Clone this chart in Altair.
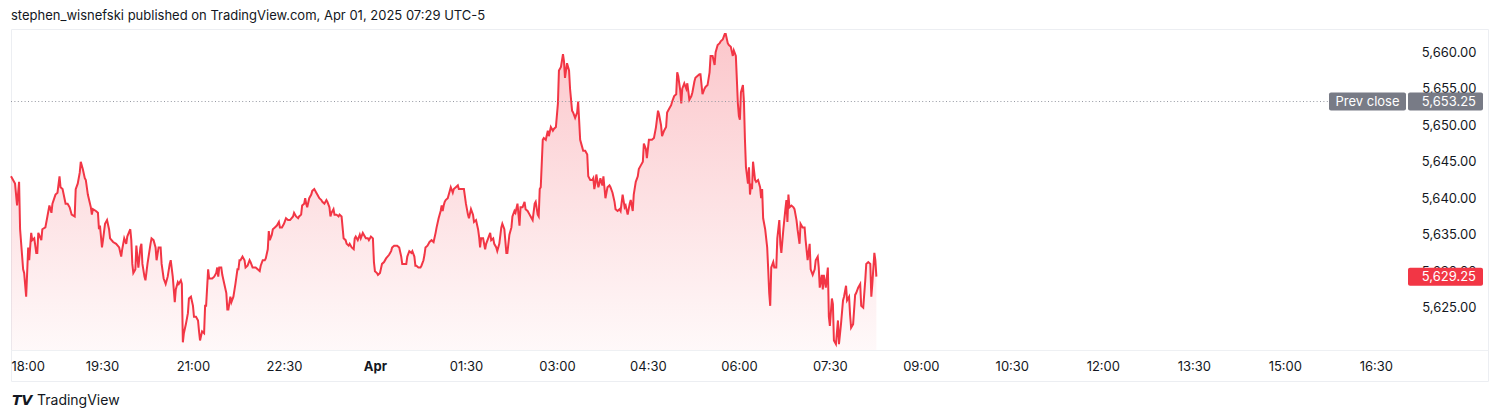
import altair as alt
import pandas as pd

# ---- data: minutes after 18:00 (Mar 31) and price ----
min_a = [0, 4, 6, 8, 9,
         12, 13, 15, 17, 18,
         20, 21, 23, 25, 26,
         27, 30, 31, 34, 36,
         38, 40, 41, 44, 46,
         48, 49, 51, 54, 56,
         58, 60, 63, 64, 66,
         68, 69, 71, 73, 74,
         76, 79, 80, 81, 84,
         86, 87, 88, 90, 91,
         93, 95, 97, 98, 101,
         104, 107, 109, 110, 112,
         114, 115, 118, 119, 120,
         121, 123, 124, 126, 128,
         129, 130, 132, 133, 135,
         138, 139, 141, 143]
px_a = [5643.0, 5642.0, 5639.0, 5642.25, 5635.75,
        5630.25, 5629.75, 5626.5, 5633.25, 5631.5,
        5635.25, 5634.25, 5634.5, 5632.5, 5632.5,
        5635.25, 5634.25, 5635.75, 5636.0, 5637.5,
        5639.0, 5638.0, 5639.25, 5640.5, 5640.75,
        5643.0, 5641.5, 5641.25, 5639.25, 5639.25,
        5638.75, 5637.75, 5637.5, 5641.25, 5642.0,
        5643.5, 5645.0, 5644.0, 5642.75, 5642.5,
        5640.5, 5638.75, 5637.75, 5638.5, 5638.25,
        5638.0, 5635.75, 5636.25, 5633.25, 5634.25,
        5636.5, 5637.0, 5635.75, 5634.5, 5634.0,
        5633.75, 5633.25, 5632.0, 5633.0, 5634.5,
        5633.75, 5634.75, 5635.75, 5634.25, 5631.0,
        5629.75, 5630.25, 5633.5, 5630.5, 5633.25,
        5633.75, 5631.0, 5629.25, 5628.75, 5631.0,
        5633.75, 5634.5, 5634.25, 5633.25]

min_b = [144, 146, 148, 149, 151,
         153, 155, 157, 158, 160,
         162, 163, 165, 166, 168,
         169, 170, 171, 173, 175,
         176, 178, 180, 181, 183,
         185, 186, 187, 189, 191,
         192, 193, 195, 196, 198,
         199, 201, 203, 204, 205,
         206, 208, 209, 211, 213,
         214, 215, 217, 218, 220,
         222, 224, 225, 226, 227,
         229, 231, 232, 234, 236,
         237, 239, 241, 242, 244,
         246, 247, 249, 251, 252,
         254, 255, 256, 258, 259,
         261, 263, 265, 266, 268,
         270, 272, 274, 276, 279,
         280, 282, 284, 285, 287]
px_b = [5631.5, 5633.25, 5633.25, 5631.0, 5629.0,
        5628.25, 5629.25, 5631.0, 5631.5, 5629.25,
        5625.75, 5627.5, 5628.5, 5628.25, 5628.75,
        5628.25, 5620.25, 5621.5, 5622.75, 5624.25,
        5626.25, 5626.5, 5625.25, 5623.75, 5623.75,
        5623.25, 5621.75, 5620.5, 5621.75, 5621.5,
        5625.25, 5625.25, 5630.25, 5629.0, 5629.0,
        5629.0, 5629.25, 5629.75, 5630.5, 5629.25,
        5630.5, 5630.5, 5629.5, 5628.25, 5627.0,
        5624.75, 5624.75, 5626.5, 5625.75, 5626.5,
        5628.25, 5630.25, 5630.25, 5631.5, 5631.5,
        5632.0, 5631.5, 5630.5, 5630.75, 5631.5,
        5631.25, 5630.5, 5630.5, 5630.5, 5630.25,
        5630.0, 5630.75, 5631.5, 5631.5, 5631.75,
        5633.0, 5635.5, 5634.25, 5635.0, 5635.75,
        5636.0, 5636.25, 5636.75, 5636.0, 5636.0,
        5636.5, 5637.25, 5637.0, 5637.0, 5637.5,
        5638.0, 5637.5, 5637.25, 5637.5, 5637.75]

min_c = [288, 290, 291, 292, 293,
         295, 297, 298, 300, 302,
         303, 305, 307, 308, 310,
         312, 313, 315, 316, 317,
         319, 320, 322, 324, 325,
         327, 328, 329, 331, 332,
         334, 335, 337, 339, 340,
         341, 343, 345, 346, 348,
         349, 351, 353, 354, 356,
         358, 359, 360, 362, 363,
         365, 367, 369, 371, 374,
         376, 377, 379, 381, 382,
         384, 386, 387, 389, 391,
         392, 394, 396, 397, 399,
         400, 401, 403, 405, 406,
         408, 409, 410, 412, 414,
         416, 418, 420, 421, 423,
         425, 426, 427, 428, 429,
         430]
px_c = [5639.0, 5639.25, 5640.0, 5639.25, 5638.75,
        5640.0, 5640.5, 5641.0, 5641.25, 5640.75,
        5640.5, 5640.0, 5639.75, 5639.5, 5639.25,
        5639.75, 5639.5, 5638.75, 5637.5, 5638.0,
        5638.5, 5637.75, 5637.75, 5637.5, 5637.75,
        5637.5, 5636.0, 5634.5, 5634.25, 5633.75,
        5633.5, 5633.75, 5633.25, 5633.0, 5634.5,
        5634.75, 5634.25, 5635.0, 5634.5, 5635.25,
        5635.0, 5634.5, 5634.5, 5634.25, 5634.75,
        5634.5, 5631.25, 5630.0, 5629.75, 5629.5,
        5629.75, 5631.0, 5631.25, 5631.75, 5632.25,
        5632.75, 5633.25, 5633.5, 5633.5, 5633.5,
        5633.25, 5632.0, 5631.0, 5631.0, 5631.0,
        5632.0, 5632.75, 5632.5, 5632.75, 5632.0,
        5630.75, 5630.75, 5630.5, 5630.5, 5630.75,
        5631.5, 5632.25, 5633.25, 5633.5, 5634.0,
        5634.25, 5634.0, 5635.25, 5636.0, 5637.25,
        5638.25, 5639.0, 5638.25, 5639.0, 5639.5,
        5639.75]

min_d = [432, 434, 435, 437, 438,
         440, 442, 443, 445, 447,
         448, 450, 452, 453, 455,
         457, 458, 460, 462, 463,
         464, 465, 467, 469, 470,
         472, 474, 475, 477, 478,
         480, 481, 483, 485, 486,
         488, 490, 491, 493, 495,
         496, 498, 499, 501, 503,
         504, 506, 508, 509, 511,
         513, 514, 516, 518, 519,
         521, 522, 523, 524, 526,
         527, 529, 531, 532, 534,
         536, 537, 539, 541, 542,
         544, 546, 547, 548, 550,
         552, 553, 555, 556, 558,
         560, 561, 563, 565, 566,
         568, 570, 571, 573]
px_d = [5640.0, 5641.0, 5641.5, 5640.75, 5641.25,
        5641.5, 5641.75, 5641.25, 5641.25, 5641.25,
        5641.25, 5639.25, 5637.75, 5637.25, 5638.5,
        5637.75, 5636.75, 5637.0, 5635.75, 5634.75,
        5633.25, 5634.5, 5634.5, 5633.0, 5633.75,
        5634.5, 5635.25, 5634.25, 5634.5, 5633.75,
        5633.25, 5632.75, 5633.75, 5636.0, 5636.5,
        5635.75, 5632.5, 5632.5, 5635.0, 5636.0,
        5637.5, 5638.25, 5638.0, 5639.25, 5636.25,
        5638.75, 5638.75, 5639.5, 5638.5, 5638.25,
        5637.75, 5637.5, 5637.0, 5639.25, 5639.5,
        5637.75, 5637.5, 5641.25, 5641.5, 5648.0,
        5648.25, 5648.0, 5649.25, 5648.5, 5649.75,
        5649.25, 5649.5, 5649.75, 5653.0, 5657.5,
        5658.0, 5659.75, 5658.75, 5656.5, 5658.5,
        5657.5, 5655.0, 5652.0, 5651.75, 5651.0,
        5651.75, 5653.25, 5648.0, 5647.0, 5646.5,
        5646.5, 5646.0, 5643.0, 5642.5]

min_e = [575, 576, 577, 578, 579,
         581, 582, 583, 585, 586,
         587, 588, 590, 592, 593,
         595, 597, 598, 600, 602,
         603, 605, 607, 608, 610,
         612, 613, 615, 616, 618,
         620, 621, 623, 625, 626,
         628, 629, 631, 632, 634,
         636, 638, 640, 641, 643,
         644, 646, 648, 649, 651,
         653, 654, 656, 658, 659,
         660, 662, 663, 664, 666,
         668, 669, 671, 673, 674,
         676, 677, 679, 681, 682,
         684, 686, 687, 689, 691,
         692, 694, 696, 697, 699,
         701, 702, 704, 706, 707,
         709, 710, 712, 714, 715,
         717]
px_e = [5642.5, 5642.75, 5641.25, 5642.0, 5643.25,
        5641.5, 5642.0, 5642.75, 5641.75, 5643.0,
        5641.5, 5640.0, 5641.5, 5641.75, 5641.5,
        5640.75, 5639.5, 5638.5, 5638.25, 5638.5,
        5638.25, 5640.5, 5638.75, 5639.0, 5637.75,
        5639.25, 5639.75, 5638.25, 5640.5, 5642.25,
        5643.0, 5644.0, 5644.5, 5645.0, 5647.5,
        5646.75, 5645.5, 5648.0, 5648.0, 5648.0,
        5648.25, 5649.75, 5652.0, 5651.5, 5650.0,
        5648.5, 5649.25, 5649.75, 5651.75, 5652.25,
        5652.75, 5653.25, 5654.0, 5654.25, 5657.25,
        5656.75, 5654.75, 5653.0, 5655.0, 5655.75,
        5655.0, 5655.75, 5653.5, 5654.0, 5654.5,
        5656.0, 5656.5, 5656.75, 5657.0, 5657.0,
        5654.25, 5655.0, 5655.25, 5655.5, 5657.25,
        5659.5, 5659.5, 5658.25, 5660.0, 5661.0,
        5661.25, 5661.5, 5661.75, 5662.5, 5662.5,
        5661.25, 5661.0, 5660.75, 5659.5, 5660.25,
        5659.5]

min_f = [718, 719, 720, 721, 722,
         724, 725, 726, 727, 729,
         730, 731, 732, 733, 734,
         736, 737, 739, 741, 742,
         743, 744, 746, 748, 749,
         750, 751, 752, 754, 755,
         757, 758, 760, 761, 762,
         764, 766, 767, 768, 769,
         770, 772, 774, 775, 777,
         778, 780, 781, 783, 785,
         786, 788, 790, 791, 793,
         795, 796, 798, 799, 800,
         802, 803, 804, 806, 808,
         809, 810, 812, 813, 814,
         816, 818, 819, 821, 823,
         824, 826, 827, 829, 830,
         831, 833, 835, 836, 838,
         840, 841, 843, 845, 846,
         848, 850, 851, 852, 854,
         855, 856]
px_f = [5656.25, 5653.0, 5651.25, 5650.75, 5654.5,
        5655.5, 5653.25, 5648.0, 5644.25, 5642.0,
        5644.25, 5640.5, 5642.0, 5641.25, 5645.0,
        5642.5, 5642.25, 5642.5, 5641.5, 5640.0,
        5641.25, 5637.25, 5635.75, 5633.25, 5630.25,
        5627.0, 5625.25, 5630.5, 5631.25, 5630.5,
        5630.5, 5634.5, 5637.0, 5633.75, 5632.5,
        5635.75, 5638.5, 5639.75, 5636.75, 5640.5,
        5638.75, 5639.0, 5638.75, 5638.5, 5637.0,
        5635.75, 5633.75, 5636.5, 5636.0, 5636.0,
        5634.25, 5631.5, 5633.75, 5630.25, 5629.5,
        5630.25, 5631.5, 5632.0, 5630.5, 5627.75,
        5629.5, 5627.5, 5629.5, 5627.75, 5630.5,
        5623.75, 5622.5, 5626.25, 5625.5, 5620.5,
        5620.0, 5623.25, 5620.0, 5622.75, 5626.0,
        5626.5, 5628.0, 5626.0, 5626.5, 5624.0,
        5622.25, 5622.75, 5626.75, 5627.0, 5627.75,
        5628.25, 5625.25, 5625.0, 5628.75, 5631.0,
        5631.25, 5631.0, 5626.5, 5628.25, 5632.5,
        5631.5, 5629.25]

minutes = min_a + min_b + min_c + min_d + min_e + min_f
prices = px_a + px_b + px_c + px_d + px_e + px_f
assert len(minutes) == len(prices), (len(minutes), len(prices))

prev_close = 5653.25
last_price = 5629.25
area_base = 5619.2

x_ticks = [0, 90, 180, 270, 360, 450, 540, 630, 720, 810, 900, 990, 1080, 1170, 1260, 1350]
x_tick_labels = ["18:00", "19:30", "21:00", "22:30", "Apr", "01:30", "03:00", "04:30",
                 "06:00", "07:30", "09:00", "10:30", "12:00", "13:30", "15:00", "16:30"]
y_ticks = [5625, 5630, 5635, 5640, 5645, 5650, 5655, 5660]
x_domain = [0, 1461]
y_domain = [5614.95, 5663.19]

title_text = "stephen_wisnefski published on TradingView.com, Apr 01, 2025 07:29 UTC-5"

FONT = "Inter"
TXT = "#131722"
RED = "#f23645"

df = pd.DataFrame({"t": minutes, "price": prices})
df["base"] = area_base

label_expr = "[" + ",".join(f"'{s}'" for s in x_tick_labels) + "][round(datum.value / 90)]"

x_enc = alt.X(
    "t:Q",
    scale=alt.Scale(domain=x_domain, nice=False, zero=False),
    axis=alt.Axis(
        orient="bottom", values=x_ticks, labelExpr=label_expr, offset=-31,
        ticks=False, tickSize=0, grid=False, domain=True, domainColor="#eef0f3",
        labelFlush=True, labelPadding=10, labelFontSize=13, labelFont=FONT,
        labelColor=TXT, labelOverlap=False, title=None,
        labelFontWeight={"condition": {"test": "datum.value == 360", "value": "bold"},
                         "value": "normal"},
    ),
)
y_enc = alt.Y(
    "price:Q",
    scale=alt.Scale(domain=y_domain, nice=False, zero=False),
    axis=alt.Axis(
        orient="right", values=y_ticks, format=",.2f", offset=-88,
        labelAlign="right", labelBaseline="middle", labelPadding=76,
        ticks=False, tickSize=0, domain=False, grid=False,
        labelFontSize=13, labelFont=FONT, labelColor=TXT, labelOverlap=False,
        title=None,
    ),
)

gradient = alt.Gradient(
    gradient="linear",
    stops=[alt.GradientStop(color="rgba(242,54,69,0.28)", offset=0),
           alt.GradientStop(color="rgba(242,54,69,0.03)", offset=1)],
    x1=1, x2=1, y1=0, y2=1,
)

area = alt.Chart(df).mark_area(color=gradient).encode(x=x_enc, y=y_enc, y2="base:Q")
line = alt.Chart(df).mark_line(color=RED, strokeWidth=2).encode(x=x_enc, y=y_enc)

prev_df = pd.DataFrame({"price": [prev_close]})
rule = alt.Chart(prev_df).mark_rule(color="#9598a1", strokeDash=[1, 2.4], strokeWidth=1).encode(
    y=y_enc, x=alt.value(0), x2=alt.value(1317)
)

tag_df = pd.DataFrame({"price": [prev_close, last_price], "fill": ["#787b86", RED]})
price_boxes = alt.Chart(tag_df).mark_rect(cornerRadius=2, yOffset=-9, y2Offset=9).encode(
    y=y_enc, y2="price:Q", x=alt.value(1397), x2=alt.value(1472),
    color=alt.Color("fill:N", scale=None),
)
price_text = alt.Chart(tag_df).mark_text(
    align="right", baseline="middle", color="white", fontSize=13, font=FONT
).encode(y=y_enc, x=alt.value(1465), text=alt.Text("price:Q", format=",.2f"))

prev_box = alt.Chart(prev_df).mark_rect(cornerRadius=2, yOffset=-9, y2Offset=9, color="#787b86").encode(
    y=y_enc, y2="price:Q", x=alt.value(1318), x2=alt.value(1395)
)
prev_text = alt.Chart(pd.DataFrame({"price": [prev_close], "lbl": ["Prev close"]})).mark_text(
    align="center", baseline="middle", color="white", fontSize=13, font=FONT
).encode(y=y_enc, x=alt.value(1356.5), text="lbl:N")

brand = alt.Chart(pd.DataFrame({"s": ["TradingView"]})).mark_text(
    align="left", baseline="middle", fontSize=14, font=FONT, color=TXT
).encode(x=alt.value(26), y=alt.value(372), text="s:N")
logo = alt.Chart(pd.DataFrame({"s": ["TV"]})).mark_text(
    align="left", baseline="middle", fontSize=14, font="DejaVu Sans", fontWeight=900,
    fontStyle="italic", color=TXT
).encode(x=alt.value(1), y=alt.value(372), text="s:N")

chart = alt.layer(
    area, line, rule, prev_box, price_boxes, prev_text, price_text, brand, logo
).properties(
    width=1477,
    height=352,
    padding={"left": 3, "top": 21, "right": 4, "bottom": 31},
    autosize=alt.AutoSizeParams(type="none"),
    title=alt.TitleParams(
        text=title_text, anchor="start", frame="group", fontSize=13,
        fontWeight="normal", font=FONT, color=TXT, offset=6,
    ),
).configure_view(stroke="#eceef2", strokeWidth=1)

chart.save("out.html", embed_options={"renderer": "svg", "actions": False})
